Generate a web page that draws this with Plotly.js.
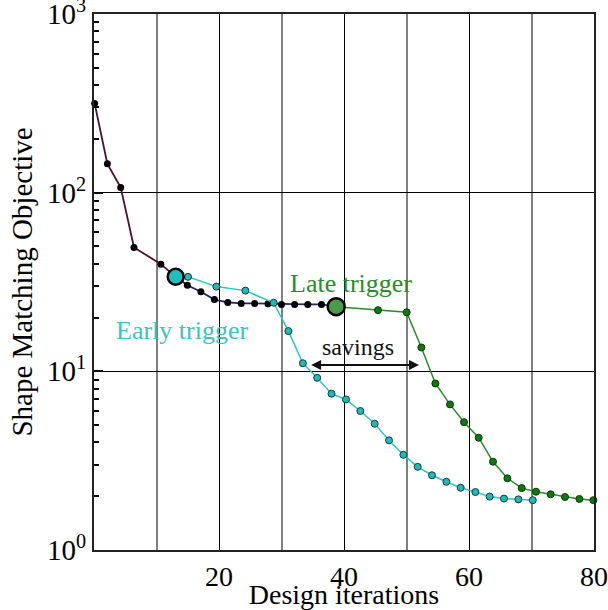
<!DOCTYPE html>
<html>
<head>
<meta charset="utf-8">
<script src="https://cdn.plot.ly/plotly-3.0.1.min.js"></script>
<style>html,body{margin:0;padding:0;background:#fff;}#chart{width:608px;height:610px;}</style>
</head>
<body>
<div id="chart"></div>
<script>
// Shared history before the triggers (two segments)
const xBase1 = [0.1, 2.14, 4.27, 6.4, 10.7, 13.07];
const yBase1 = [316, 145, 107, 49.4, 39.8, 33.8];
const xBase2 = [13.07, 14.94, 17.1, 19.26, 21.4, 23.55, 25.7, 27.84, 30.0, 32.1, 34.2, 36.4, 38.75];
const yBase2 = [33.8, 30.3, 27.9, 25.2, 24.3, 24.0, 24.0, 23.9, 23.7, 23.7, 23.7, 23.7, 23.0];
// Early trigger branch
const xEarly = [13.07, 15.04, 19.58, 24.22, 28.75, 31.1, 33.42, 35.71, 38.0, 40.32, 42.62, 44.91, 47.2, 49.5, 51.79, 54.08, 56.38, 58.67, 61.02, 63.3, 65.6, 67.9, 70.2];
const yEarly = [33.8, 33.8, 29.8, 28.3, 24.2, 16.8, 11.1, 9.2, 7.5, 6.96, 6.0, 5.09, 4.11, 3.41, 2.92, 2.62, 2.41, 2.23, 2.11, 1.99, 1.94, 1.92, 1.90];
// Late trigger branch
const xLate = [38.75, 45.44, 50.03, 52.38, 54.62, 56.96, 59.2, 61.55, 63.84, 66.14, 68.43, 70.72, 73.07, 75.36, 77.66, 79.9];
const yLate = [23.0, 22.0, 21.4, 13.6, 8.55, 6.53, 5.19, 4.25, 3.12, 2.52, 2.22, 2.12, 2.05, 1.98, 1.93, 1.90];
// Trigger points
const triggerX = [13.07, 38.75];
const triggerY = [33.8, 23.0];
// Ticks
const xTickVals = [20, 40, 60, 80];
const xMinorVals = [10, 30, 50, 70];
const yTickVals = [1, 10, 100, 1000];
const yTickText = ['10<sup>0</sup>', '10<sup>1</sup>', '10<sup>2</sup>', '10<sup>3</sup>'];
const yMinorVals = [2,3,4,5,6,7,8,9,20,30,40,50,60,70,80,90,200,300,400,500,600,700,800,900];
// Savings arrow
const savingsFrom = 34.5, savingsTo = 52.0, savingsLevel = 10.85;

const serif = 'Liberation Serif, Times New Roman, serif';
const cyanLine = '#2cc6c6', cyanFill = '#20b8b8';
const greenLine = '#2a8c2a', greenFill = '#107810';

const traces = [
  {x: xBase1, y: yBase1, mode: 'lines+markers', line: {color: '#4a1030', width: 1.8},
   marker: {color: '#000', size: 7}, cliponaxis: false, hoverinfo: 'skip'},
  {x: xBase2, y: yBase2, mode: 'lines+markers', line: {color: '#23236e', width: 1.8},
   marker: {color: '#000', size: 7}, cliponaxis: false, hoverinfo: 'skip'},
  {x: xEarly, y: yEarly, mode: 'lines+markers', line: {color: cyanLine, width: 1.5},
   marker: {color: cyanFill, size: 7, line: {color: '#1a3a3a', width: 1}}, hoverinfo: 'skip'},
  {x: xLate, y: yLate, mode: 'lines+markers', line: {color: greenLine, width: 1.5},
   marker: {color: greenFill, size: 7, line: {color: '#0a3a0a', width: 1}}, cliponaxis: false, hoverinfo: 'skip'},
  {x: [triggerX[0]], y: [triggerY[0]], mode: 'markers',
   marker: {color: '#22bdbd', size: 16, line: {color: '#000', width: 2.5}}, hoverinfo: 'skip'},
  {x: [triggerX[1]], y: [triggerY[1]], mode: 'markers',
   marker: {color: '#4a9a4a', size: 17, line: {color: '#000', width: 2.5}}, hoverinfo: 'skip'}
];

function px2paperX(p) { return (p - 94.3) / 500; }
function px2paperY(p) { return (550 - p) / 536; }
function mask(x0, x1, y0, y1) {
  return {type: 'rect', xref: 'paper', yref: 'paper', layer: 'below',
    x0: px2paperX(x0), x1: px2paperX(x1), y0: px2paperY(y1), y1: px2paperY(y0),
    fillcolor: '#fff', line: {width: 0}};
}

const layout = {
  width: 608, height: 610,
  margin: {l: 94, r: 14, t: 14, b: 60},
  paper_bgcolor: '#fff', plot_bgcolor: '#fff',
  showlegend: false,
  font: {family: serif, color: '#000', size: 24},
  xaxis: {
    range: [0, 80], tickmode: 'array', tickvals: xTickVals, ticks: '',
    showline: true, mirror: true, linecolor: '#222', linewidth: 2,
    showgrid: true, gridcolor: '#000', gridwidth: 1, zeroline: false,
    minor: {tickmode: 'array', tickvals: xMinorVals, showgrid: true, gridcolor: '#808080', gridwidth: 2, ticks: ''},
    tickfont: {family: serif, size: 28, color: '#000'},
    ticklabeloverflow: 'allow',
    title: {text: 'Design iterations', font: {family: serif, size: 28, color: '#000'}, standoff: 3}
  },
  yaxis: {
    type: 'log', range: [0, 3], tickmode: 'array', tickvals: yTickVals, ticktext: yTickText,
    ticks: 'inside', ticklen: 9, tickwidth: 2, tickcolor: '#000',
    showline: true, mirror: true, linecolor: '#222', linewidth: 2,
    showgrid: true, gridcolor: '#000', gridwidth: 1, zeroline: false,
    minor: {tickmode: 'array', tickvals: yMinorVals, ticks: 'inside', ticklen: 5, tickwidth: 2, tickcolor: '#000', showgrid: false},
    tickfont: {family: serif, size: 29, color: '#000'},
    ticklabeloverflow: 'allow',
    title: {text: 'Shape Matching Objective', font: {family: serif, size: 29, color: '#000'}, standoff: 6}
  },
  shapes: [
    mask(275, 418, 257, 300),
    mask(112, 252, 308, 350),
    mask(305, 400, 322, 362)
  ],
  annotations: [
    {x: 41.1, y: Math.log10(31.2), xref: 'x', yref: 'y', text: 'Late trigger', showarrow: false,
     font: {family: serif, size: 26, color: '#2a8c2a'}},
    {x: 14.1, y: Math.log10(17.0), xref: 'x', yref: 'y', text: 'Early trigger', showarrow: false,
     font: {family: serif, size: 26, color: '#3cc4c4'}},
    {x: 42.2, y: Math.log10(13.7), xref: 'x', yref: 'y', text: 'savings', showarrow: false,
     font: {family: serif, size: 24, color: '#111'}},
    {x: savingsTo, y: Math.log10(savingsLevel), xref: 'x', yref: 'y',
     ax: savingsFrom, ay: Math.log10(savingsLevel), axref: 'x', ayref: 'y',
     text: '', showarrow: true, arrowhead: 2, startarrowhead: 2, arrowside: 'end+start',
     arrowsize: 1, startarrowsize: 1, arrowwidth: 2, arrowcolor: '#111', standoff: 0, startstandoff: 0}
  ]
};

Plotly.newPlot('chart', traces, layout, {displayModeBar: false, staticPlot: true});
</script>
</body>
</html>
